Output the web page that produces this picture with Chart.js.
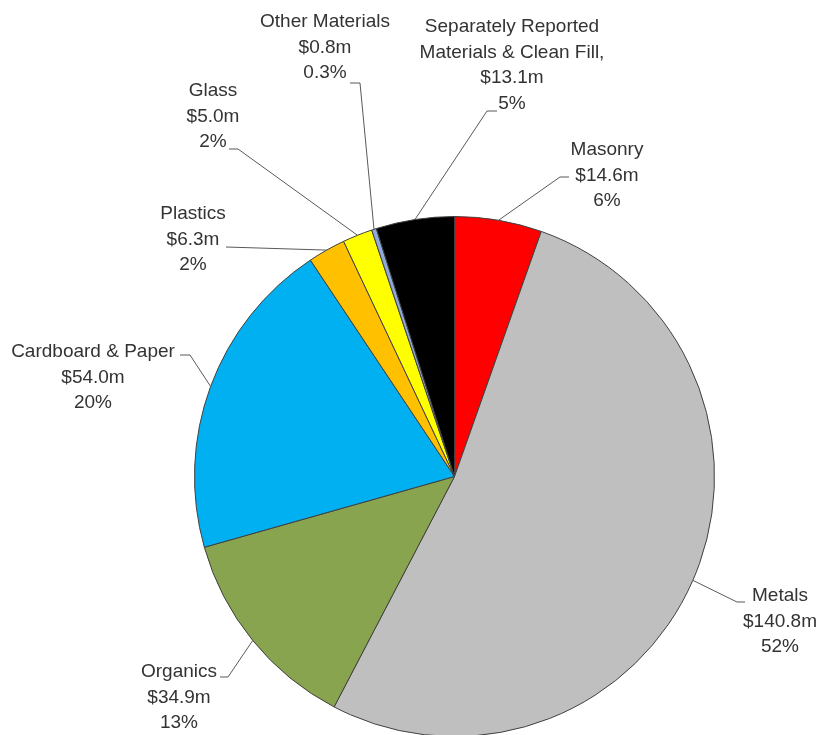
<!DOCTYPE html>
<html>
<head>
<meta charset="utf-8">
<script src="https://cdn.jsdelivr.net/npm/chart.js@4"></script>
<style>
    html, body { margin: 0; padding: 0; overflow: hidden; background: #fff; }
    #caja { width: 821px; height: 740px; }
</style>
</head>
<body>
<div id="caja"><canvas id="myChart" width="821" height="740"></canvas></div>
<script>
// datos del grafico de torta (en millones)
var categorias = ['Masonry', 'Metals', 'Organics', 'Cardboard & Paper', 'Plastics', 'Glass', 'Other Materials', 'Separately Reported Materials & Clean Fill,'];
var valores = [14.6, 140.8, 34.9, 54.0, 6.3, 5.0, 0.8, 13.1];
var porcentajes = ['6%', '52%', '13%', '20%', '2%', '2%', '0.3%', '5%'];
var colores = ['#FF0000', '#BFBFBF', '#88A44F', '#00B0F0', '#FFC000', '#FFFF00', '#8EA9DB', '#000000'];

// lineas del texto de cada etiqueta (el nombre largo va en dos renglones)
var renglones = [
    ['Masonry'],
    ['Metals'],
    ['Organics'],
    ['Cardboard & Paper'],
    ['Plastics'],
    ['Glass'],
    ['Other Materials'],
    ['Separately Reported', 'Materials & Clean Fill,']
];

// ubicacion de etiquetas: centro del texto, primer renglon, y puntos de la linea guia
var ubicaciones = [
    {x: 607, y: 150, guia: [[560, 177], [569, 177]]},
    {x: 780, y: 596, guia: [[737, 602], [745, 602]]},
    {x: 179, y: 672, guia: [[228, 677], [220, 677]]},
    {x: 93, y: 352, guia: [[190, 355], [180, 355]]},
    {x: 193, y: 214, guia: [[226, 247]]},
    {x: 213, y: 91, guia: [[238, 149], [229, 149]]},
    {x: 325, y: 22, guia: [[360, 83], [350, 83]]},
    {x: 512, y: 27, guia: [[487, 111], [497, 111]]}
];

var etiquetas = {
    id: 'etiquetas',
    afterDatasetsDraw: function (chart) {
        var ctx = chart.ctx;
        var arcos = chart.getDatasetMeta(0).data;
        ctx.save();
        arcos.forEach(function (arco, i) {
            var medio = (arco.startAngle + arco.endAngle) / 2;
            var x0 = arco.x + Math.cos(medio) * arco.outerRadius;
            var y0 = arco.y + Math.sin(medio) * arco.outerRadius;
            var u = ubicaciones[i];

            // linea guia
            ctx.strokeStyle = '#595959';
            ctx.lineWidth = 1;
            ctx.beginPath();
            ctx.moveTo(x0, y0);
            u.guia.forEach(function (p) {
                ctx.lineTo(p[0], p[1]);
            });
            ctx.stroke();

            // texto
            var lineas = renglones[i].concat(['$' + valores[i].toFixed(1) + 'm', porcentajes[i]]);
            ctx.fillStyle = '#333333';
            ctx.font = '19px "Liberation Sans", Arial, sans-serif';
            ctx.textAlign = 'center';
            ctx.textBaseline = 'middle';
            lineas.forEach(function (t, k) {
                ctx.fillText(t, u.x, u.y + k * 25.5);
            });
        });
        ctx.restore();
    }
};

var ctx1 = document.getElementById('myChart').getContext('2d');
new Chart(ctx1, {
    type: 'pie',
    data: {
        labels: categorias,
        datasets: [{
                data: valores,
                backgroundColor: colores,
                borderColor: '#404040',
                borderWidth: 1
            }]
    },
    options: {
        responsive: false,
        animation: false,
        layout: {
            padding: {left: 194, right: 106, top: 216, bottom: 3}
        },
        plugins: {
            legend: {display: false},
            tooltip: {enabled: false}
        }
    },
    plugins: [etiquetas]
});
</script>
</body>
</html>
